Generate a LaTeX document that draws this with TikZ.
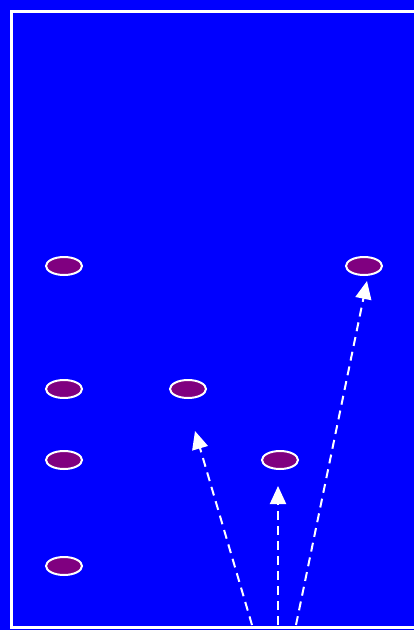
\documentclass[tikz,border=0pt]{standalone}
\usetikzlibrary{arrows.meta,shapes.geometric}
\definecolor{field}{RGB}{0,0,255}
\definecolor{cone}{RGB}{128,0,128}
\begin{document}
\begin{tikzpicture}[x=1pt,y=-1pt,
  marker/.style={ellipse,draw=white,line width=2pt,fill=cone,minimum width=36pt,minimum height=18pt,inner sep=0pt},
  run/.style={draw=white,line width=2pt,dash pattern=on 9pt off 6pt,-{Triangle[width=16pt,length=18pt]}}]
\fill[field] (0,0) rectangle (414,630);
\useasboundingbox (0,0) rectangle (414,630);
\draw[white,line width=3pt] (430,11) -- (11,11) -- (11,627) -- (430,627);
\node[marker] (a) at (64,266) {};
\node[marker] (b) at (64,389) {};
\node[marker] (c) at (64,460) {};
\node[marker] (d) at (64,566) {};
\node[marker] (e) at (188,389) {};
\node[marker] (f) at (280,460) {};
\node[marker] (g) at (364,266) {};
\coordinate (s1) at (252,625);
\coordinate (t1) at (195,431);
\coordinate (s2) at (278,625);
\coordinate (t2) at (278,486);
\coordinate (s3) at (296,625);
\coordinate (t3) at (367,281);
\draw[run] (s1) -- (t1);
\draw[run] (s2) -- (t2);
\draw[run] (s3) -- (t3);
\end{tikzpicture}
\end{document}
